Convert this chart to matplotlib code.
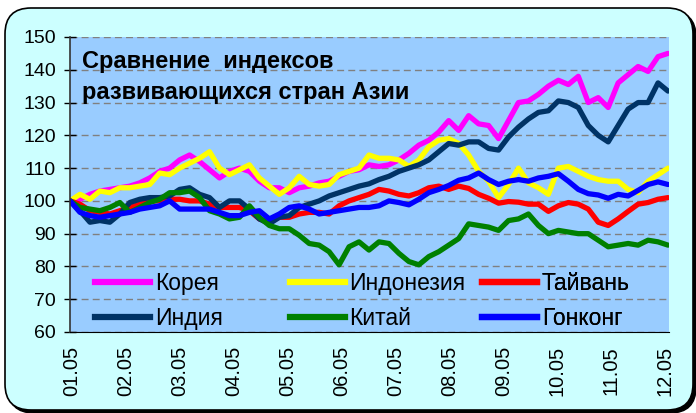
import numpy as np
import matplotlib
matplotlib.use("Agg")
import matplotlib.pyplot as plt
from matplotlib.patches import FancyBboxPatch
from matplotlib.lines import Line2D

plt.rcParams['font.family'] = ['Liberation Sans', 'DejaVu Sans']

# month labels on the x axis
months = ['01.05', '02.05', '03.05', '04.05', '05.05', '06.05',
          '07.05', '08.05', '09.05', '10.05', '11.05', '12.05']

# index values (start = 100), roughly weekly
korea = [100, 100.5, 102, 103, 103.5, 104, 104.5, 105.5, 107, 109, 110, 112.5, 114, 112, 109.5, 107,
         109, 110, 109, 106, 104, 104, 102.5, 104, 104.5, 105.5, 106, 107.5, 109, 109.5, 111,
         110.5, 111, 112.5, 114.5, 117, 118.5, 121, 124.5, 121.5, 126, 123.5, 123, 119, 124.5, 130,
         130.5, 132.5, 135, 136.8, 135.5, 138, 130, 131.5, 128.5, 136, 138.5, 141, 139.5, 144, 145]
indonesia = [100, 102, 100.5, 103, 102.5, 104, 104, 104.5, 105, 108.5, 108, 110, 111.5, 113, 115, 110,
             108, 109.5, 111, 107, 104.5, 102, 104, 107.5, 105, 104.5, 105, 108, 109, 110, 114,
             113, 113, 112.5, 110.5, 112.5, 116.5, 118.5, 119, 117.5, 114, 109, 106, 101, 105, 110,
             105.5, 104, 102, 110, 110.5, 109, 107.5, 106.5, 106, 106, 103.5, 102.5, 106, 108, 110]
taiwan = [100, 99, 97, 96.5, 96, 97, 98, 99, 100, 100, 100.5, 100.5, 100, 100, 99, 98,
          98, 98, 97, 94.5, 93.5, 95, 95, 96, 96.5, 96.5, 96, 98.5, 100, 101, 102,
          103.5, 103, 102, 101.5, 102.5, 104, 104.5, 103.5, 104.5, 103.8, 102, 100.8, 99.3, 99.8, 99.6,
          99, 99, 96.8, 98.5, 99.5, 99, 97.5, 93.5, 92.5, 94.5, 96.8, 99, 99.5, 100.5, 101]
india = [100, 97, 93.5, 94, 93.5, 96, 99.5, 100.5, 101, 101, 101.5, 103.5, 104, 102, 101, 98,
         100, 100, 97.5, 94.5, 93, 95, 95.5, 98, 99, 100, 101.5, 102.5, 103.5, 104.5, 105.2,
         106.5, 107.5, 109, 110, 111, 112.5, 115, 117.5, 117, 118, 118, 116, 115.5, 119.5, 122.5,
         125, 127, 127.5, 130.5, 130, 128.5, 123, 120, 118, 123, 128, 130, 130, 136, 133.5]
china = [100, 98, 97.5, 97, 98, 99.5, 96.5, 98, 99.5, 100.5, 102.5, 102.5, 103, 101, 97, 96,
         94.5, 95, 98.5, 95, 92.5, 91.5, 91.5, 89.5, 87, 86.5, 84.5, 80.5, 86, 87.5, 85,
         87.5, 87, 84, 81.5, 80.5, 83, 84.5, 86.5, 88.5, 93, 92.5, 92, 91, 94, 94.5,
         96, 92.5, 90, 91, 90.5, 90, 90, 88, 86, 86.5, 87, 86.5, 88, 87.5, 86.5]
hongkong = [100, 96.5, 95.5, 95, 95.5, 96, 96.5, 97.5, 98, 98.5, 100, 97.5, 97.5, 97.5, 97.5, 96.5,
            95.5, 95.5, 96.5, 97, 94.5, 96, 98, 98.5, 97.5, 96, 96.5, 97, 97.5, 98, 98,
            98.5, 100, 99.5, 98.8, 100.5, 102.5, 103.5, 104.7, 106.3, 107, 108.5, 106.5, 105, 106, 106.5,
            106, 107, 107.5, 108.3, 106, 103.5, 102.2, 101.8, 100.8, 102, 101.5, 103.2, 105, 105.8, 105]

series = [
    ('Корея', korea, '#FF00FF'),
    ('Индонезия', indonesia, '#FFFF00'),
    ('Тайвань', taiwan, '#FF0000'),
    ('Индия', india, '#003366'),
    ('Китай', china, '#008000'),
    ('Гонконг', hongkong, '#0000FF'),
]

fig = plt.figure(figsize=(6.96, 4.13), dpi=100)
fig.patch.set_facecolor('white')

# rounded frame with a shadow, in pixel units
bg = fig.add_axes([0, 0, 1, 1], zorder=-1)
bg.set_xlim(0, 696)
bg.set_ylim(413, 0)
bg.axis('off')
bg.add_patch(FancyBboxPatch((8, 11), 688, 402, boxstyle='round,pad=0,rounding_size=26',
                            facecolor='black', edgecolor='black', lw=1))
bg.add_patch(FancyBboxPatch((5, 8), 688, 402, boxstyle='round,pad=0,rounding_size=26',
                            facecolor='#CCFFFF', edgecolor='black', lw=1.2))

ax = fig.add_axes([70 / 696, 81 / 413, 599 / 696, 295 / 413])
ax.set_facecolor('#99CCFF')

x = np.arange(len(korea))
for name, vals, col in series:
    ax.plot(x, vals, color=col, lw=3.8, solid_joinstyle='round', solid_capstyle='round')

ax.set_xlim(0, len(korea) - 0.9)
ax.set_ylim(60, 150)
ax.set_yticks(np.arange(60, 151, 10))
ax.set_xticks(np.linspace(0.2, len(korea) - 1.3, len(months)))
ax.set_xticklabels(months, rotation=90)
ax.grid(axis='y', color='#808080', linestyle=(0, (5, 3)), lw=1)
ax.set_axisbelow(True)

for s in ['top', 'right']:
    ax.spines[s].set_visible(False)
ax.spines['left'].set_color('#333333')
ax.spines['left'].set_linewidth(1.2)
ax.spines['bottom'].set_color('black')
ax.tick_params(axis='y', direction='inout', length=8, width=1, labelsize=14, pad=6)
ax.tick_params(axis='x', length=0, labelsize=14.5, pad=10)

ax.text(0.02, 0.955, 'Сравнение  индексов\nразвивающихся стран Азии',
        transform=ax.transAxes, fontsize=17, fontweight='bold', va='top', ha='left',
        linespacing=1.45)

# legend: three columns placed like the original
handles = [Line2D([], [], color=col, lw=4.5) for _, _, col in series]
names = [n for n, _, _ in series]
cols = [(0, 3), (1, 4), (2, 5)]
xs = [0.042, 0.367, 0.688]
for (a, b), xpos in zip(cols, xs):
    leg = ax.legend([handles[a], handles[b]], [names[a], names[b]], loc='center left',
                    bbox_to_anchor=(xpos, 0.105), frameon=False, fontsize=16.5,
                    handlelength=2.4, handletextpad=0.2, labelspacing=0.55,
                    borderpad=0, borderaxespad=0)
    ax.add_artist(leg)

plt.savefig('out.png', dpi=100, facecolor=fig.get_facecolor())
plt.close()
